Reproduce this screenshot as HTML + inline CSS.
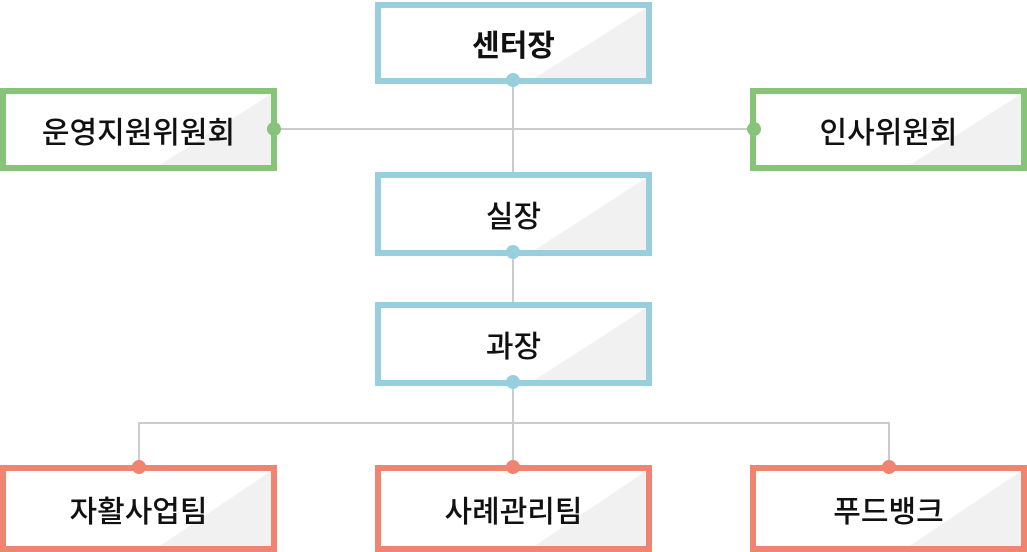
<!DOCTYPE html><html><head><style>
body{margin:0;width:1027px;height:552px;background:#fff;position:relative;overflow:hidden;font-family:"Liberation Sans","Noto Sans CJK KR",sans-serif}
.b{position:absolute;box-sizing:border-box;border:6px solid;display:flex;align-items:center;justify-content:center;font-size:30px;font-weight:500;color:#111;background:#fff}
.b::before{content:"";position:absolute;left:0;top:0;right:0;bottom:0;background:#f1f1f1;clip-path:polygon(58% 100%,100% 0,100% 100%)}
.b span{position:relative}
.bl{border-color:#98cfdf}.g{border-color:#88c37a}.r{border-color:#ef8470}
</style></head><body>
<svg width="1027" height="552" style="position:absolute;left:0;top:0">
<g stroke="#cccccc" stroke-width="2" fill="none">
<line x1="513" y1="80" x2="513" y2="467"/>
<line x1="275" y1="129" x2="754" y2="129"/>
<polyline points="139,467 139,423 889,423 889,467"/>
</g></svg>
<div class="b bl" style="left:375px;top:2px;width:277px;height:82px;font-weight:bold"><span>센터장</span></div>
<div class="b g" style="left:0;top:88px;width:277px;height:83px"><span>운영지원위원회</span></div>
<div class="b g" style="left:750px;top:88px;width:277px;height:83px"><span>인사위원회</span></div>
<div class="b bl" style="left:375px;top:172px;width:277px;height:84px"><span>실장</span></div>
<div class="b bl" style="left:375px;top:302px;width:277px;height:84px"><span>과장</span></div>
<div class="b r" style="left:0;top:465px;width:277px;height:87px"><span>자활사업팀</span></div>
<div class="b r" style="left:375px;top:465px;width:277px;height:87px"><span>사례관리팀</span></div>
<div class="b r" style="left:750px;top:465px;width:277px;height:87px"><span>푸드뱅크</span></div>
<svg width="1027" height="552" style="position:absolute;left:0;top:0">
<g fill="#98cfdf"><circle cx="513" cy="80" r="7"/><circle cx="513" cy="252" r="7"/><circle cx="513" cy="382" r="7"/></g>
<g fill="#88c37a"><circle cx="274" cy="129" r="7"/><circle cx="754" cy="129" r="7"/></g>
<g fill="#ef8470"><circle cx="139" cy="467" r="7"/><circle cx="513" cy="467" r="7"/><circle cx="889" cy="467" r="7"/></g>
</svg>
</body></html>
